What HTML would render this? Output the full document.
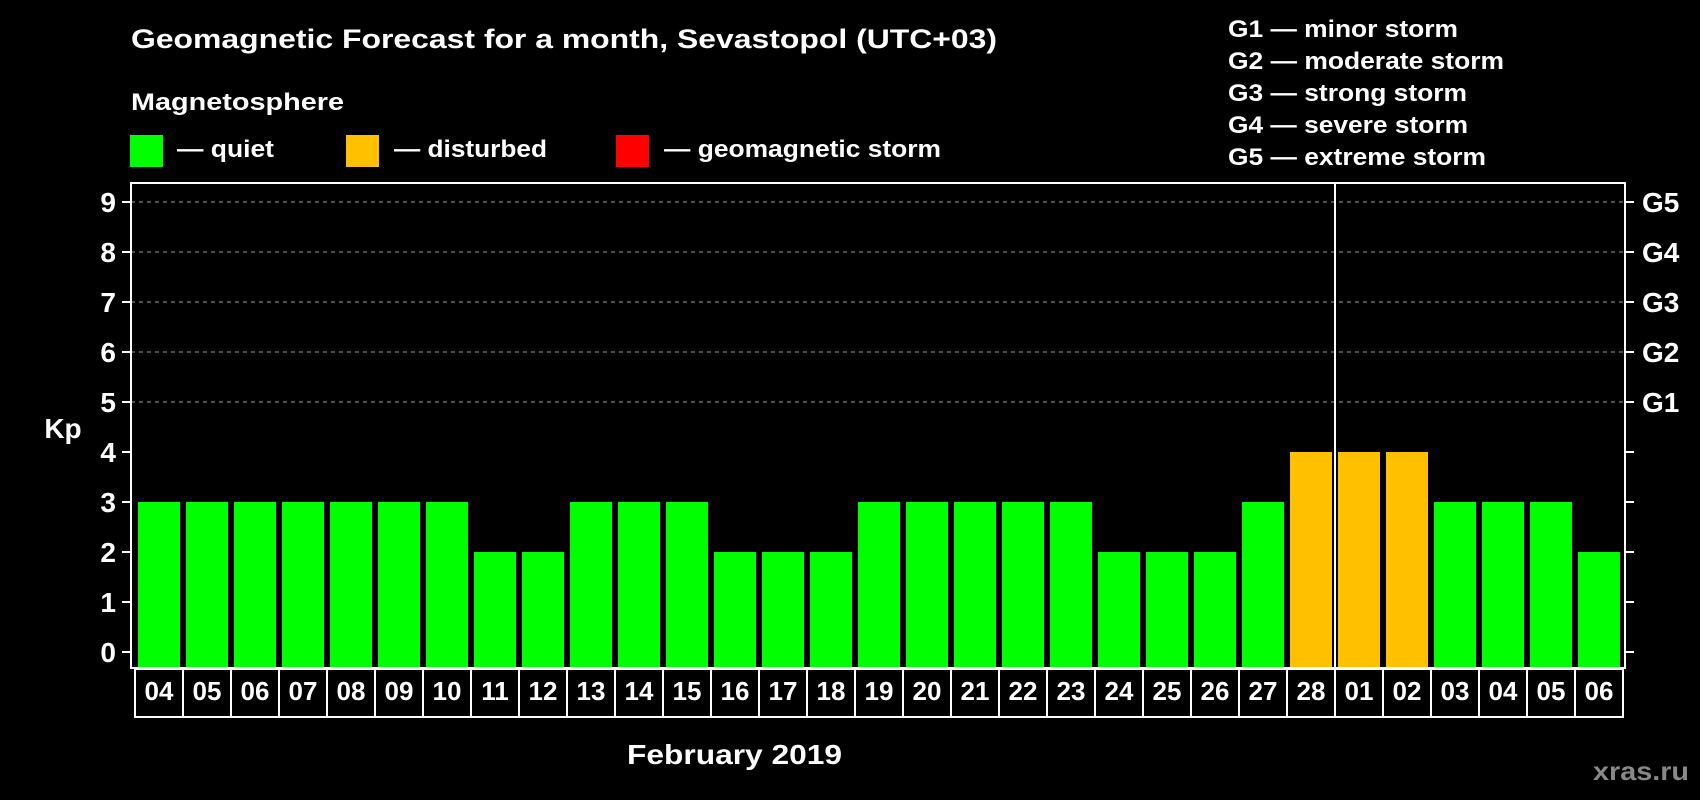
<!DOCTYPE html>
<html><head><meta charset="utf-8"><style>
html,body{margin:0;padding:0;background:#000;width:1700px;height:800px;overflow:hidden}
svg{display:block}
text{font-family:"Liberation Sans",Arial,sans-serif;font-weight:bold;fill:#fff}
</style></head><body>
<svg id="chart" width="1700" height="800" viewBox="0 0 1700 800">
<rect x="0" y="0" width="1700" height="800" fill="#000"/>
<text x="131" y="48" font-size="27" textLength="866" lengthAdjust="spacingAndGlyphs">Geomagnetic Forecast for a month, Sevastopol (UTC+03)</text>
<text x="131" y="110" font-size="24" textLength="213" lengthAdjust="spacingAndGlyphs">Magnetosphere</text>
<g>
<rect x="130" y="135" width="33" height="32" fill="#00ff00"/>
<text x="177" y="157" font-size="24" textLength="97" lengthAdjust="spacingAndGlyphs">— quiet</text></g>
<g>
<rect x="346" y="135" width="33" height="32" fill="#ffc000"/>
<text x="394" y="157" font-size="24" textLength="153" lengthAdjust="spacingAndGlyphs">— disturbed</text></g>
<g>
<rect x="616" y="135" width="33" height="32" fill="#ff0000"/>
<text x="664" y="157" font-size="24" textLength="277" lengthAdjust="spacingAndGlyphs">— geomagnetic storm</text></g>
<g>
<text x="1228" y="37" font-size="24" textLength="230" lengthAdjust="spacingAndGlyphs">G1 — minor storm</text>
<text x="1228" y="69" font-size="24" textLength="276" lengthAdjust="spacingAndGlyphs">G2 — moderate storm</text>
<text x="1228" y="101" font-size="24" textLength="239" lengthAdjust="spacingAndGlyphs">G3 — strong storm</text>
<text x="1228" y="133" font-size="24" textLength="240" lengthAdjust="spacingAndGlyphs">G4 — severe storm</text>
<text x="1228" y="165" font-size="24" textLength="258" lengthAdjust="spacingAndGlyphs">G5 — extreme storm</text>
</g>
<text x="63" y="438" font-size="28" text-anchor="middle">Kp</text>
<text x="627" y="764" font-size="28" textLength="215" lengthAdjust="spacingAndGlyphs">February 2019</text>
<text x="1593" y="780" font-size="26" fill="#888" style="fill:#888" textLength="96" lengthAdjust="spacingAndGlyphs">xras.ru</text>
<g id="plot"></g>
</svg>
<script>
const days = ["04","05","06","07","08","09","10","11","12","13","14","15","16","17","18","19","20","21","22","23","24","25","26","27","28","01","02","03","04","05","06"];
const kpValues = [3,3,3,3,3,3,3,2,2,3,3,3,2,2,2,3,3,3,3,3,2,2,2,3,4,4,4,3,3,3,2];
const yTicks = [0,1,2,3,4,5,6,7,8,9];
const gLabels = ["","","","","","G1","G2","G3","G4","G5"];
const monthBreakIndex = 25;

const NS = "http://www.w3.org/2000/svg";
const plot = document.getElementById("plot");
const X0 = 131, X1 = 1625, YTOP = 183, YBOT = 668;
const y = v => 652 - 50 * v;
const xBar = i => 138 + 48 * i;
const xCell = i => 135 + 48 * i;
function mk(tag, attrs) { const e = document.createElementNS(NS, tag); for (const k in attrs) e.setAttribute(k, attrs[k]); plot.appendChild(e); return e; }
function color(v) { return v >= 5 ? "#ff0000" : (v >= 4 ? "#ffc000" : "#00ff00"); }

yTicks.forEach((t, i) => {
  if (t >= 5) {
    const g = mk("line", {x1: X0, x2: X1, y1: y(t), y2: y(t), stroke: "#999", "stroke-width": 1, "stroke-dasharray": "4,4"});
    
    
  }
  const tl = mk("line", {x1: 122, x2: X0, y1: y(t), y2: y(t), stroke: "#fff", "stroke-width": 2});
  
  
  const tr = mk("line", {x1: X1, x2: 1634, y1: y(t), y2: y(t), stroke: "#fff", "stroke-width": 2});
  
  
  const lab = mk("text", {x: 116, y: y(t) + 10, "font-size": 28, "text-anchor": "end"});
  lab.textContent = String(t);
  
  
  if (gLabels[i]) {
    const gl = mk("text", {x: 1642, y: y(t) + 10, "font-size": 28});
    gl.textContent = gLabels[i];
    
    
  }
});

kpValues.forEach((v, i) => {
  const b = mk("rect", {x: xBar(i), y: y(v), width: 42, height: YBOT - y(v), fill: color(v)});
  
  
});

days.forEach((d, i) => {
  const c = mk("rect", {x: xCell(i), y: 669, width: 48, height: 48, fill: "none", stroke: "#fff", "stroke-width": 2});
  
  
  const t = mk("text", {x: xCell(i) + 24, y: 700, "font-size": 26, "text-anchor": "middle"});
  t.textContent = d;
  
  
});

const sep = mk("line", {x1: xBar(monthBreakIndex) - 3, x2: xBar(monthBreakIndex) - 3, y1: YTOP, y2: YBOT, stroke: "#fff", "stroke-width": 2});



const frame = mk("rect", {x: X0, y: YTOP, width: X1 - X0, height: YBOT - YTOP, fill: "none", stroke: "#fff", "stroke-width": 2});


</script>
</body></html>
